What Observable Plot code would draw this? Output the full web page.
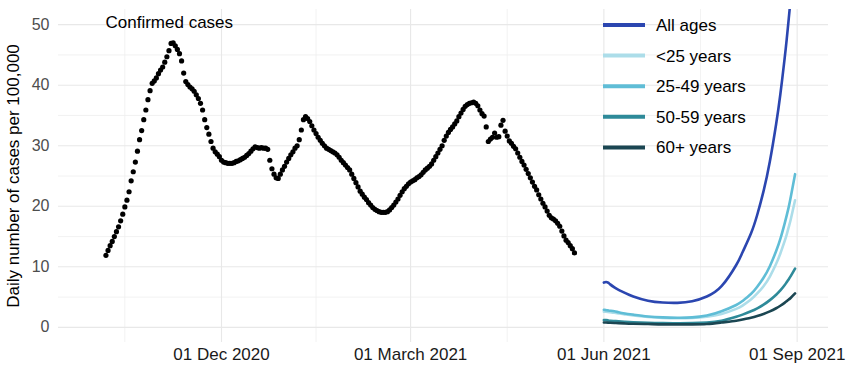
<!DOCTYPE html>
<html><head><meta charset="utf-8">
<script src="https://cdn.jsdelivr.net/npm/d3@7"></script>
<script src="https://cdn.jsdelivr.net/npm/@observablehq/plot@0.6"></script>
<style>body{margin:0;background:#fff;font-family:"Liberation Sans",Arial,sans-serif}</style>
</head><body><div id="chart"></div>
<script>
// Observed daily confirmed cases per 100,000 (one value per day from start date)
const confirmedStart = "2020-10-07";
const confirmedValues = [
  11.9, 12.7, 13.5, 14.2, 15.0, 15.8, 16.6, 17.6, 18.7, 19.9,
  21.0, 22.4, 24.2, 25.7, 27.3, 29.1, 31.0, 32.5, 34.3, 35.9,
  37.6, 39.1, 40.3, 40.7, 41.2, 41.9, 42.5, 43.0, 43.8, 44.7,
  45.7, 46.9, 47.0, 46.5, 45.9, 45.2, 44.0, 42.0, 40.6, 40.1,
  39.7, 39.4, 39.0, 38.4, 37.8, 37.0, 35.9, 34.3, 33.0, 31.9,
  30.7, 29.6, 29.0, 28.6, 28.2, 27.6, 27.3, 27.2, 27.1, 27.1,
  27.1, 27.2, 27.4, 27.5, 27.7, 27.9, 28.1, 28.4, 28.7, 29.1,
  29.5, 29.8, 29.7, 29.6, 29.7, 29.6, 29.6, 29.4, 27.6, 26.2,
  25.3, 24.7, 24.6, 25.3, 26.0, 26.6, 27.3, 27.9, 28.5, 29.0,
  29.6, 30.0, 31.0, 32.6, 34.3, 34.8, 34.5, 34.0, 33.3, 32.6,
  32.0, 31.4, 30.9, 30.4, 30.0, 29.6, 29.4, 29.2, 29.0, 28.8,
  28.5, 28.1, 27.6, 27.2, 26.8, 26.4, 26.0, 25.3, 24.6, 23.9,
  23.2, 22.5, 22.0, 21.5, 21.1, 20.6, 20.2, 19.8, 19.5, 19.3,
  19.1, 19.0, 19.0, 19.0, 19.1, 19.4, 19.8, 20.2, 20.7, 21.2,
  21.8, 22.4, 22.9, 23.3, 23.7, 24.0, 24.2, 24.4, 24.7, 24.9,
  25.2, 25.6, 26.0, 26.3, 26.6, 27.0, 27.6, 28.2, 28.8, 29.4,
  30.0, 30.9, 31.6, 32.2, 32.7, 33.1, 33.6, 34.1, 34.8, 35.4,
  36.0, 36.5, 36.8, 37.0, 37.1, 37.2, 37.0, 36.6, 35.9, 35.3,
  34.9, 33.1, 30.7, 31.1, 31.4, 32.1, 31.4, 31.5, 33.4, 34.2,
  32.4, 31.6, 30.8, 30.4, 29.9, 29.5, 28.8, 28.1, 27.4, 26.8,
  26.1, 25.4, 24.7, 24.0, 23.3, 22.7, 21.9, 21.2, 20.5, 19.9,
  19.2, 18.5, 18.1, 17.9, 17.6, 17.2, 16.7, 15.9, 15.1, 14.4,
  14.0, 13.5, 13.0, 12.3
];

// Projections (days after projection start)
const projectionStart = "2021-06-01";
const projectionDays = [0,1,2,3,5,7,10,14,21,28,35,42,49,56,63,66,70,73,76,79,82,84,86,87,88,89,91];
const allAges   = [7.4,7.5,7.4,7.1,6.6,6.2,5.7,5.1,4.4,4.1,4.05,4.3,5.1,6.8,10.3,12.4,15.5,18.6,22.5,27.4,33.6,38.5,44.3,47.5,51.0,54.8,63.3];
const under25   = [2.6,2.6,2.55,2.5,2.4,2.3,2.15,1.95,1.7,1.55,1.5,1.55,1.75,2.2,3.05,3.6,4.6,5.6,6.8,8.4,10.5,12.2,14.2,15.3,16.6,17.9,21.0];
const age25to49 = [2.9,2.85,2.8,2.75,2.65,2.5,2.3,2.1,1.8,1.65,1.6,1.65,1.95,2.65,3.7,4.35,5.5,6.7,8.2,10.1,12.6,14.6,17.1,18.45,19.9,21.6,25.3];
const age50to59 = [1.2,1.2,1.15,1.1,1.05,1.0,0.93,0.85,0.75,0.7,0.68,0.7,0.8,1.1,1.75,2.1,2.65,3.15,3.75,4.5,5.4,6.1,6.95,7.45,7.95,8.5,9.7];
const age60plus = [0.8,0.8,0.78,0.75,0.72,0.7,0.65,0.6,0.55,0.5,0.5,0.5,0.55,0.8,1.1,1.3,1.6,1.88,2.22,2.64,3.16,3.57,4.05,4.32,4.6,4.9,5.6];

const seriesNames  = ["All ages", "<25 years", "25-49 years", "50-59 years", "60+ years"];
const seriesColors = ["#2b46b0", "#acdde9", "#5fbdd6", "#2e8a99", "#1b4652"];
const seriesValues = [allAges, under25, age25to49, age50to59, age60plus];

// Axis ticks
const xTickDates  = ["2020-12-01", "2021-03-01", "2021-06-01", "2021-09-01"];
const xTickLabels = ["01 Dec 2020", "01 March 2021", "01 Jun 2021", "01 Sep 2021"];
const xMinorDates = ["2020-10-16", "2021-01-15", "2021-04-16", "2021-07-17"];
const xDomain = ["2020-09-14T10:00Z", "2021-09-15T22:00Z"];
const yTicks = [0, 10, 20, 30, 40, 50];
const yMinor = [5, 15, 25, 35, 45];
const yDomain = [-2.5, 52.5];

const annotation = "Confirmed cases";
const yTitle = "Daily number of cases per 100,000";

// Build tables
const parse = d3.utcParse("%Y-%m-%d");
const cStart = parse(confirmedStart);
const confirmed = confirmedValues.map((v, i) => ({date: d3.utcDay.offset(cStart, i), value: v}));
const pStart = parse(projectionStart);
const projections = [];
seriesNames.forEach((name, s) => {
  projectionDays.forEach((d, i) => projections.push({series: name, date: d3.utcDay.offset(pStart, d), value: seriesValues[s][i]}));
});
const xTicks = xTickDates.map(parse);
const xMinor = xMinorDates.map(parse);

const font = "Liberation Sans, Arial, Helvetica, sans-serif";

const plot = Plot.plot({
  width: 850,
  height: 368,
  marginLeft: 58,
  marginRight: 22,
  marginTop: 9,
  marginBottom: 26,
  style: {fontFamily: font, background: "#fff", overflow: "visible"},
  x: {type: "utc", domain: xDomain.map(d => new Date(d))},
  y: {domain: yDomain},
  color: {domain: seriesNames, range: seriesColors},
  marks: [
    Plot.ruleY(yMinor, {stroke: "#efefef", strokeWidth: 0.8}),
    Plot.ruleX(xMinor, {stroke: "#efefef", strokeWidth: 0.8}),
    Plot.ruleY(yTicks, {stroke: "#e8e8e8", strokeWidth: 1.1}),
    Plot.ruleX(xTicks, {stroke: "#e8e8e8", strokeWidth: 1.1}),
    Plot.axisY({ticks: yTicks, tickSize: 0, tickPadding: 9, fontSize: 16, color: "#4d4d4d", label: null}),
    Plot.axisX({ticks: xTicks, tickSize: 0, tickPadding: 5, fontSize: 17, color: "#1a1a1a", label: null,
      tickFormat: d => xTickLabels[xTicks.findIndex(t => +t === +d)]}),
    Plot.dot(confirmed, {x: "date", y: "value", r: 2.6, fill: "#000", stroke: null}),
    Plot.line(projections, {x: "date", y: "value", z: "series", stroke: "series", strokeWidth: 2.6, curve: "natural", clip: true}),
    Plot.text([annotation], {frameAnchor: "top-left", dx: 47, dy: 13, lineAnchor: "middle", textAnchor: "start", fontSize: 17, fill: "#000"})
  ]
});

const svg = d3.select(plot);
// y-axis title
svg.append("text")
  .attr("transform", "translate(13,176) rotate(-90)")
  .attr("text-anchor", "middle")
  .attr("dy", "0.35em")
  .attr("font-size", 17)
  .attr("font-family", font)
  .attr("fill", "#000")
  .text(yTitle);

// legend inside the panel
const lg = svg.append("g").attr("font-family", font).attr("font-size", 17).attr("text-anchor", "start");
seriesNames.forEach((name, i) => {
  const y = 25 + i * 30.6;
  lg.append("line").attr("x1", 603).attr("x2", 645).attr("y1", y).attr("y2", y)
    .attr("stroke", seriesColors[i]).attr("stroke-width", 4);
  lg.append("text").attr("x", 656).attr("y", y).attr("dy", "0.35em")
    .attr("text-anchor", "start").attr("fill", "#000").text(name);
});

document.getElementById("chart").append(plot);
</script>
</body></html>
